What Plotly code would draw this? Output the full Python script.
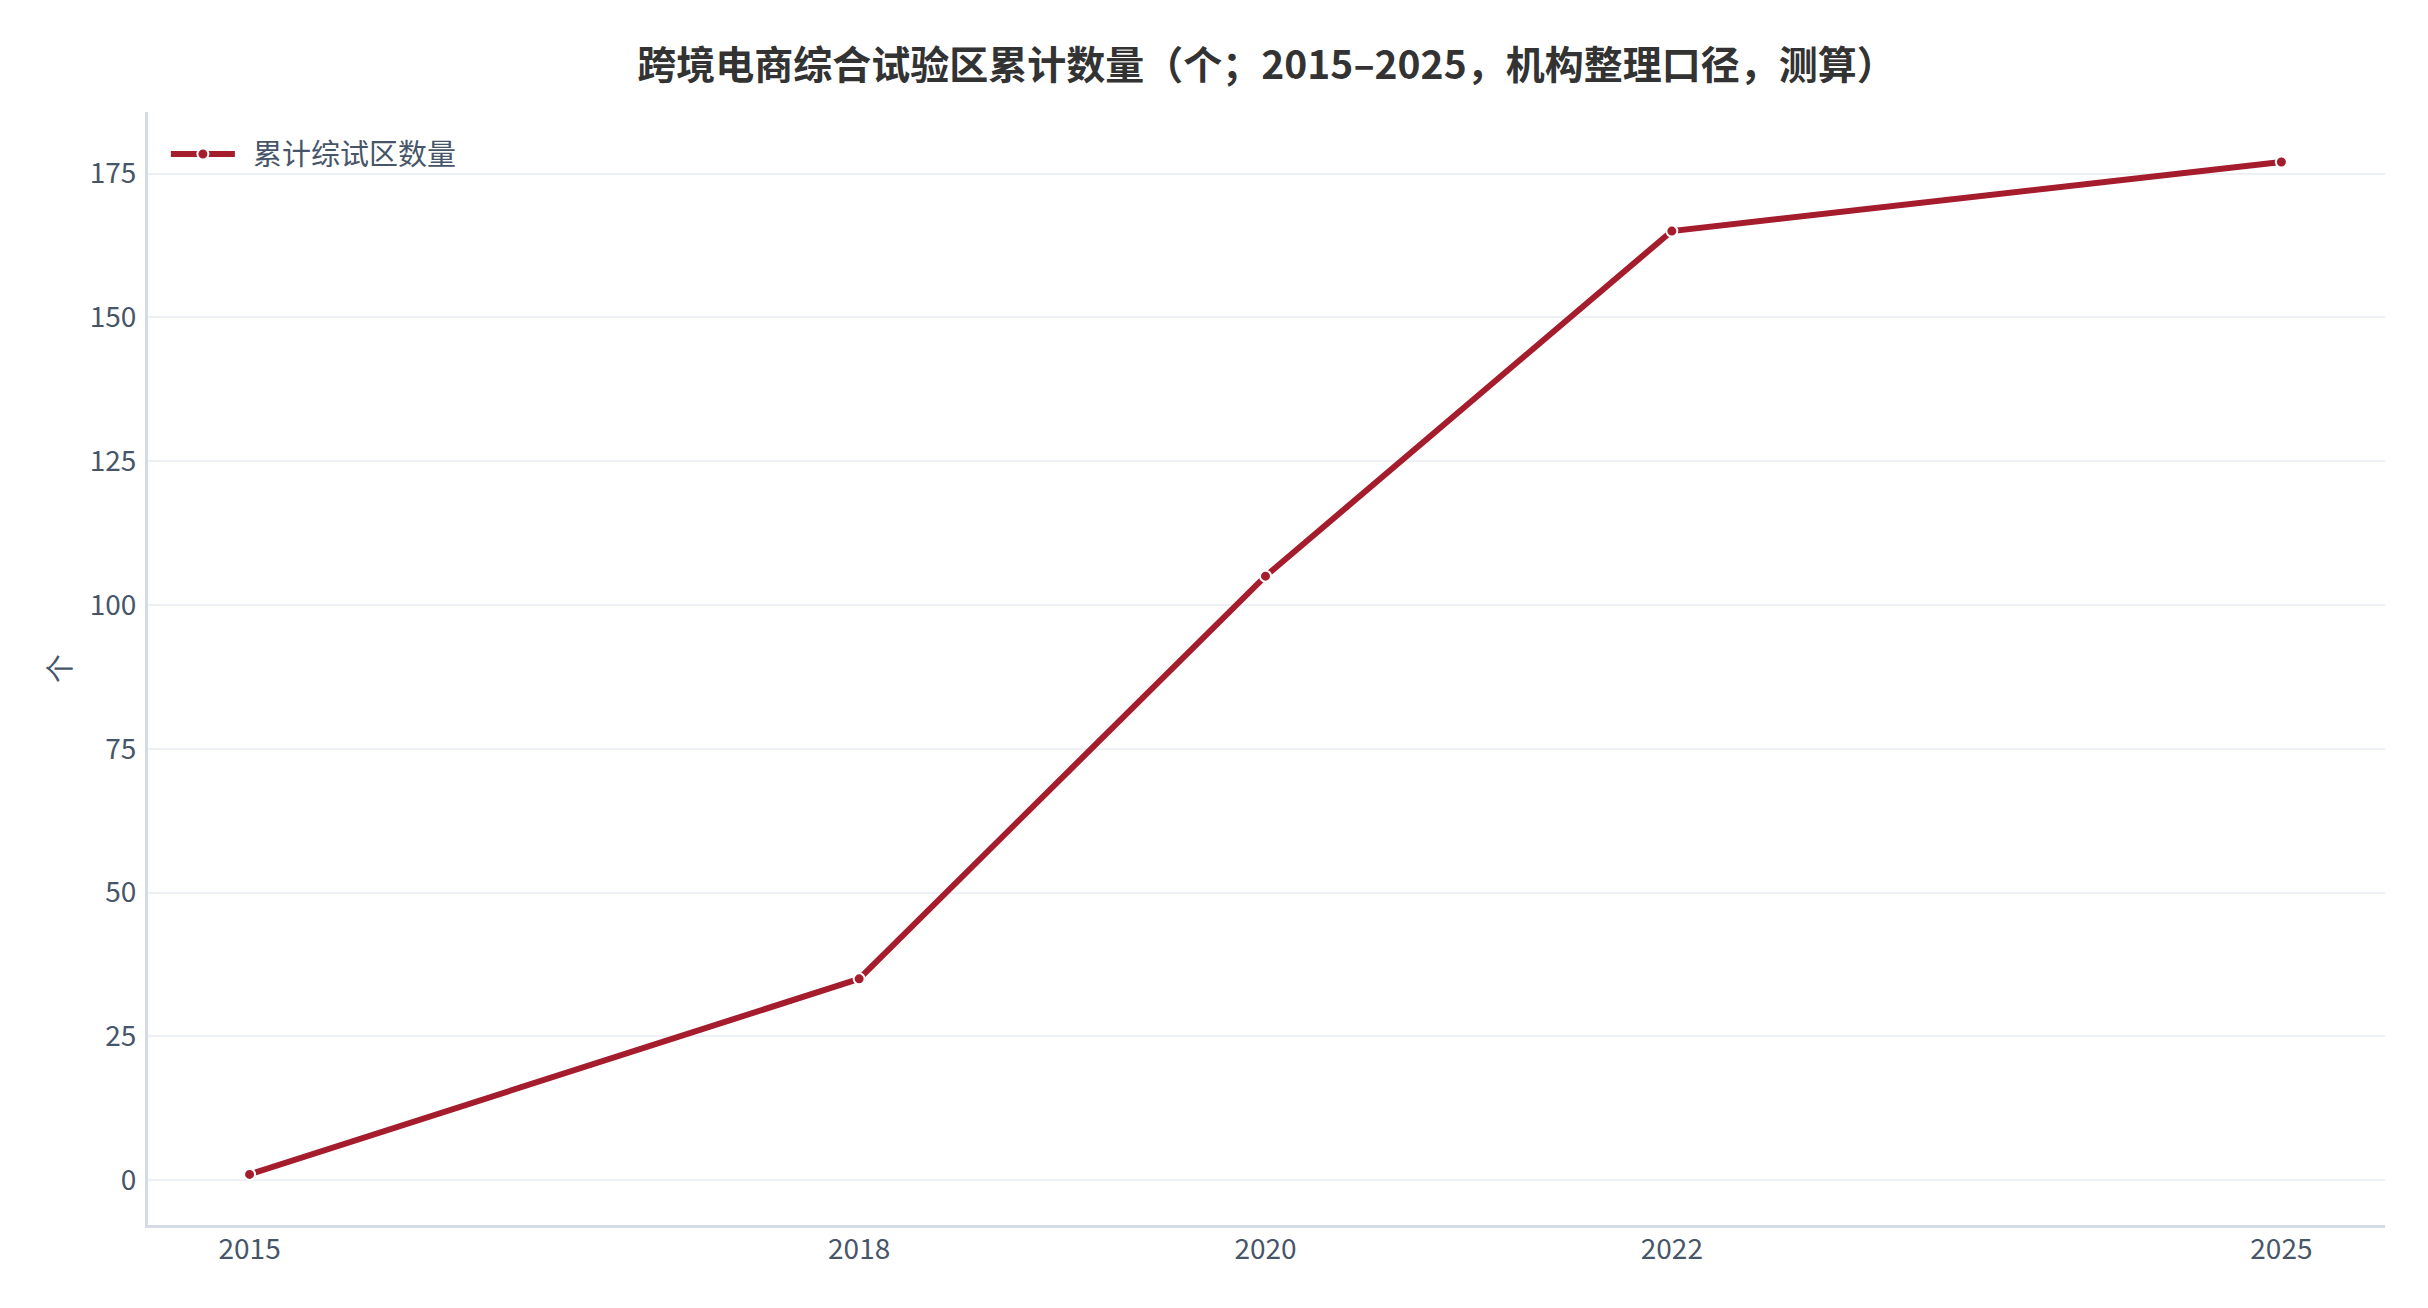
import plotly.graph_objects as go

years = [2015, 2018, 2020, 2022, 2025]
counts = [1, 35, 105, 165, 177]
series_name = "累计综试区数量"
title_text = "跨境电商综合试验区累计数量（个；2015–2025，机构整理口径，测算）"
y_title = "个"
y_ticks = [0, 25, 50, 75, 100, 125, 150, 175]

LINE = "#A51C2D"
TXT = "#475569"
FONT = "Noto Sans CJK SC"

fig = go.Figure()
fig.add_trace(go.Scatter(
    x=years, y=counts, name="\u00a0\u00a0" + series_name, mode="lines+markers",
    line=dict(color=LINE, width=6),
    marker=dict(size=11, color=LINE, line=dict(color="white", width=2)),
))

fig.update_layout(
    width=2428, height=1308,
    paper_bgcolor="white", plot_bgcolor="white",
    margin=dict(l=148, r=43, t=112, b=83, autoexpand=False),
    font=dict(family=FONT, size=28, color=TXT),
    title=dict(text="<b>" + title_text + "</b>", x=0.5, xref="paper", xanchor="center",
               y=1 - 65 / 1308, yref="container", yanchor="middle",
               font=dict(family=FONT, size=39, color="#333333")),
    showlegend=True,
    legend=dict(x=0.008, y=0.985, xanchor="left", yanchor="top",
                bgcolor="rgba(0,0,0,0)", itemwidth=64,
                font=dict(family=FONT, size=29, color=TXT)),
    xaxis=dict(range=[2014.5, 2025.51], tickvals=years, ticktext=[str(y) for y in years],
               showgrid=False, zeroline=False, showline=True, linecolor="#D5DBE5", linewidth=3,
               ticks="", ticklabelstandoff=-3, tickfont=dict(size=28, color=TXT)),
    yaxis=dict(range=[-7.8, 185.7], tickvals=y_ticks, showgrid=True, gridcolor="#EDF0F4", gridwidth=2,
               zeroline=False, showline=True, linecolor="#D5DBE5", linewidth=3, ticks="",
               ticklabelstandoff=3, tickfont=dict(size=28, color=TXT),
               title=dict(text=y_title, standoff=10, font=dict(size=29, color=TXT))),
)

fig.write_html("out.html")
